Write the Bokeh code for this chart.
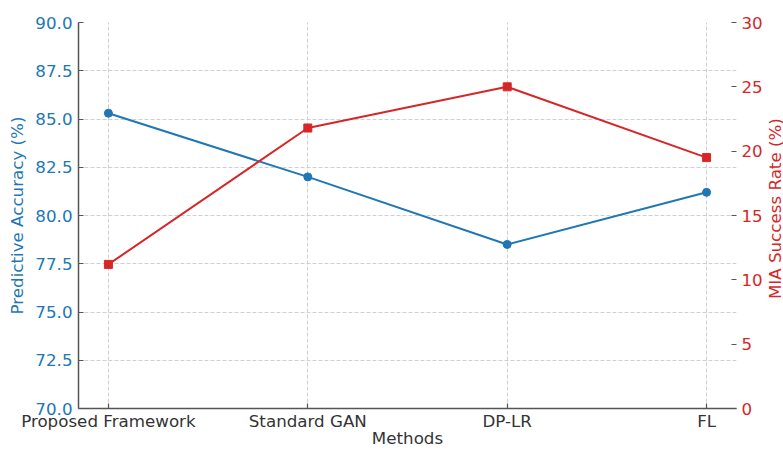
import math
from bokeh.plotting import figure
from bokeh.layouts import row
from bokeh.models import Range1d, LinearAxis, FixedTicker, Grid, PrintfTickFormatter
from bokeh.core.properties import value
from bokeh.embed import file_html
from bokeh.resources import INLINE

methods = ["Proposed Framework", "Standard GAN", "DP-LR", "FL"]
accuracy = [85.3, 82.0, 78.5, 81.2]
mia_rate = [11.2, 21.8, 25.0, 19.5]
acc_ticks = [70.0, 72.5, 75.0, 77.5, 80.0, 82.5, 85.0, 87.5, 90.0]
mia_ticks = [0, 5, 10, 15, 20, 25, 30]
mia_title = "MIA Success Rate (%)"

BLUE = "#1f77b4"
RED = "#d62728"
FONT = "DejaVu Sans"
FS = "16.7px"
SPINE = "#555555"
GRID = "#cfcfcf"
TXT = "#333333"

x = list(range(len(methods)))

W, H = 783, 450
TITLE_W = 18
MAIN_W = W - TITLE_W
ML, MR, MT, MB = 78, MAIN_W - 738, 22, 38

p = figure(width=MAIN_W, height=H, output_backend="svg", toolbar_location=None,
           x_range=Range1d(-0.15, len(methods) - 1 + 0.15),
           y_range=Range1d(acc_ticks[0], acc_ticks[-1]),
           min_border_left=ML, min_border_right=MR, min_border_top=MT, min_border_bottom=MB)
p.outline_line_color = None
p.background_fill_color = "white"
p.border_fill_color = "white"
p.extra_y_ranges = {"mia": Range1d(mia_ticks[0], mia_ticks[-1])}

# bottom axis
xa = p.xaxis[0]
xa.ticker = FixedTicker(ticks=x)
xa.major_label_overrides = {i: m for i, m in zip(x, methods)}
xa.major_label_text_font = FONT
xa.major_label_text_font_size = FS
xa.major_label_text_color = TXT
xa.major_label_standoff = 2
xa.axis_line_color = SPINE
xa.axis_line_width = 1.5
xa.major_tick_in = 5
xa.major_tick_out = 0
xa.major_tick_line_color = SPINE
xa.major_tick_line_width = 1.2
xa.minor_tick_line_color = None
xa.axis_label = "Methods"
xa.axis_label_text_font = FONT
xa.axis_label_text_font_size = FS
xa.axis_label_text_font_style = "normal"
xa.axis_label_text_color = TXT
xa.axis_label_standoff = -6

# left axis
ya = p.yaxis[0]
ya.ticker = FixedTicker(ticks=acc_ticks)
ya.formatter = PrintfTickFormatter(format="%.1f")
ya.major_label_text_font = FONT
ya.major_label_text_font_size = FS
ya.major_label_text_color = BLUE
ya.major_label_standoff = 6
ya.axis_line_color = SPINE
ya.axis_line_width = 1.5
ya.major_tick_in = 5
ya.major_tick_out = 0
ya.major_tick_line_color = SPINE
ya.major_tick_line_width = 1.2
ya.minor_tick_line_color = None
ya.axis_label = "Predictive Accuracy (%)"
ya.axis_label_text_font = FONT
ya.axis_label_text_font_size = FS
ya.axis_label_text_font_style = "normal"
ya.axis_label_text_color = BLUE
ya.axis_label_standoff = 5

# right axis (ticks + labels; its title is set in the narrow strip beside it)
ra = LinearAxis(y_range_name="mia", ticker=FixedTicker(ticks=mia_ticks))
ra.major_label_text_font = FONT
ra.major_label_text_font_size = FS
ra.major_label_text_color = RED
ra.major_label_standoff = 5
ra.axis_line_color = None
ra.major_tick_in = 5
ra.major_tick_out = 0
ra.major_tick_line_color = SPINE
ra.major_tick_line_width = 1.2
ra.minor_tick_line_color = None
p.add_layout(ra, "right")

# grids
p.xgrid.grid_line_color = GRID
p.xgrid.grid_line_dash = "4 2"
p.ygrid.grid_line_color = GRID
p.ygrid.grid_line_dash = "4 2"
p.add_layout(Grid(dimension=1, axis=ra, grid_line_color=GRID, grid_line_dash="4 2"))

# series
p.line(x, accuracy, line_color=BLUE, line_width=2)
p.scatter(x, accuracy, marker="circle", size=8, fill_color=BLUE, line_color=BLUE)
p.line(x, mia_rate, line_color=RED, line_width=2, y_range_name="mia")
p.scatter(x, mia_rate, marker="square", size=8, fill_color=RED, line_color=RED, y_range_name="mia")

# narrow strip holding the right-axis title, reading bottom-to-top
t = figure(width=TITLE_W, height=H, output_backend="svg", toolbar_location=None,
           x_range=Range1d(0, 1), y_range=Range1d(0, H), min_border=0)
t.axis.visible = False
t.grid.visible = False
t.outline_line_color = None
t.background_fill_color = "white"
t.border_fill_color = "white"
t.text(x=[0.5], y=[H - (MT + (H - MB)) / 2], text=[mia_title], angle=math.pi / 2,
       text_font=value(FONT), text_font_size=FS, text_color=RED,
       text_align="center", text_baseline="middle")

layout = row(p, t, spacing=0)
open("out.html", "w").write(file_html(layout, INLINE))
